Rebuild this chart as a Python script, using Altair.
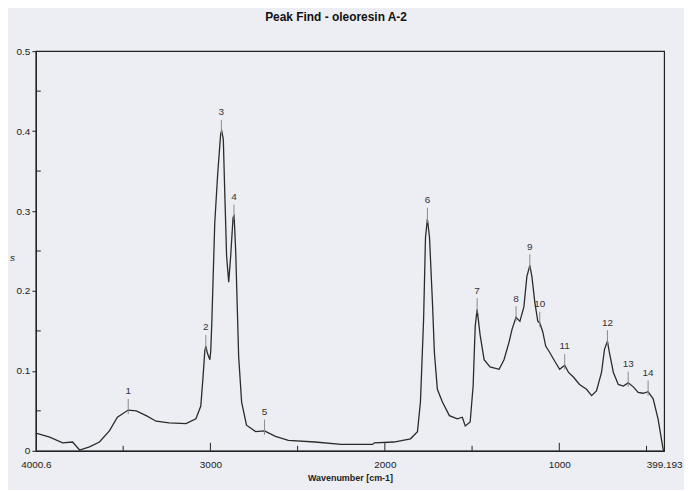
import altair as alt
import pandas as pd

# Spectrum (wavenumber in cm-1, absorbance)
wavenumber = [4000.6, 3921, 3847, 3790, 3750, 3693, 3636, 3579, 3533, 3471, 3425, 3368, 3311,
              3237, 3140, 3083, 3055, 3043, 3032, 3026, 3017, 3003, 2998, 2992, 2975, 2958,
              2941, 2935, 2926, 2918, 2907, 2895, 2884, 2870, 2864, 2855, 2838, 2821, 2793,
              2741, 2690, 2627, 2553, 2400, 2251, 2070, 2060, 1949, 1853, 1813, 1796, 1778,
              1767, 1756, 1744, 1727, 1716, 1699, 1670, 1630, 1585, 1556, 1539, 1511, 1494,
              1482, 1471, 1454, 1431, 1397, 1345, 1317, 1288, 1271, 1248, 1226, 1203, 1186,
              1169, 1157, 1140, 1123, 1112, 1095, 1078, 1055, 1026, 998, 969, 947, 918, 884,
              844, 815, 787, 758, 741, 724, 713, 690, 662, 633, 605, 576, 548, 519, 491, 462,
              434, 405, 399.193]
absorbance = [0.022, 0.017, 0.010, 0.011, 0.001, 0.005, 0.011, 0.025, 0.042, 0.051, 0.050, 0.044,
              0.037, 0.035, 0.034, 0.040, 0.056, 0.090, 0.125, 0.131, 0.122, 0.114, 0.125, 0.160,
              0.285, 0.347, 0.397, 0.400, 0.390, 0.326, 0.243, 0.211, 0.243, 0.292, 0.294, 0.250,
              0.118, 0.061, 0.032, 0.024, 0.025, 0.018, 0.013, 0.011, 0.008, 0.008, 0.010, 0.011,
              0.015, 0.024, 0.061, 0.164, 0.267, 0.290, 0.267, 0.185, 0.123, 0.077, 0.061, 0.044,
              0.040, 0.042, 0.031, 0.036, 0.081, 0.156, 0.177, 0.145, 0.114, 0.105, 0.102, 0.114,
              0.136, 0.152, 0.167, 0.162, 0.180, 0.218, 0.232, 0.218, 0.185, 0.162, 0.160, 0.149,
              0.131, 0.123, 0.112, 0.102, 0.107, 0.098, 0.092, 0.083, 0.077, 0.069, 0.075, 0.098,
              0.127, 0.137, 0.123, 0.098, 0.083, 0.081, 0.085, 0.080, 0.073, 0.072, 0.074, 0.065,
              0.040, 0.002, 0.0]

# Peak markers
peak_id = ["1", "2", "3", "4", "5", "6", "7", "8", "9", "10", "11", "12", "13", "14"]
peak_wn = [3471, 3026, 2937, 2865, 2690, 1756, 1471, 1248, 1169, 1112, 969, 724, 605, 491]
peak_abs = [0.051, 0.131, 0.400, 0.294, 0.025, 0.290, 0.177, 0.167, 0.232, 0.160, 0.107,
            0.137, 0.085, 0.074]

# Axis ticks
x_labels = [4000.6, 3000, 2000, 1000, 399.193]
x_major = [3000, 2000, 1000]
x_minor = [3500, 2500, 1500, 500]
y_major = [0, 0.1, 0.2, 0.3, 0.4, 0.5]
y_minor = [0.05, 0.15, 0.25, 0.35, 0.45]

W, H = 632, 402
FONT = "Liberation Sans"
INK = "#222222"

spec = pd.DataFrame({"wn": wavenumber, "a": absorbance})
peaks = pd.DataFrame({"id": peak_id, "wn": peak_wn, "a": peak_abs})
peaks["t0"] = peaks["a"] - 0.005
peaks["t1"] = peaks["a"] + 0.014
peaks["lab"] = peaks["a"] + 0.0235

xs = alt.Scale(domain=[4000.6, 399.193], nice=False, zero=False)
ys = alt.Scale(domain=[0, 0.5], nice=False, zero=True)

line = alt.Chart(spec).mark_line(color="#2b2b2b", strokeWidth=1.3).encode(
    x=alt.X("wn:Q", scale=xs,
            axis=alt.Axis(values=x_labels, labelExpr="'' + datum.value", ticks=False,
                          grid=False, labelPadding=9, labelFont=FONT, labelFontSize=10,
                          labelColor=INK, domainColor=INK, domainWidth=1.2,
                          labelFlush=False, labelOverlap=False,
                          title="Wavenumber [cm-1]", titleFont=FONT, titleFontSize=9,
                          titleFontWeight="bold", titleColor=INK, titlePadding=4)),
    y=alt.Y("a:Q", scale=ys,
            axis=alt.Axis(values=y_major, format="", labelExpr="'' + datum.value",
                          tickSize=4, tickColor=INK, grid=False, labelPadding=2,
                          labelFont=FONT, labelFontSize=10, labelColor=INK,
                          domainColor=INK, domainWidth=1.2, labelFlush=False,
                          title="s", titleAngle=0, titleX=-24, titleY=208,
                          titleAlign="center", titleBaseline="middle",
                          titleFont=FONT, titleFontSize=10, titleFontWeight="normal",
                          titleFontStyle="italic", titleColor=INK)),
)

xmaj = alt.Chart(pd.DataFrame({"v": x_major})).mark_rule(color=INK, strokeWidth=1).encode(
    x=alt.X("v:Q", scale=xs), y=alt.value(H), y2=alt.value(H - 8))
xmin = alt.Chart(pd.DataFrame({"v": x_minor})).mark_rule(color=INK, strokeWidth=1).encode(
    x=alt.X("v:Q", scale=xs), y=alt.value(H), y2=alt.value(H - 5))
ymin = alt.Chart(pd.DataFrame({"v": y_minor})).mark_rule(color=INK, strokeWidth=1).encode(
    y=alt.Y("v:Q", scale=ys), x=alt.value(0), x2=alt.value(5))

ptick = alt.Chart(peaks).mark_rule(color="#8a8a8a", strokeWidth=1).encode(
    x=alt.X("wn:Q", scale=xs), y=alt.Y("t0:Q", scale=ys), y2="t1:Q")
ptext = alt.Chart(peaks).mark_text(font=FONT, fontSize=10, color="#333333",
                                   baseline="middle", align="center").encode(
    x=alt.X("wn:Q", scale=xs), y=alt.Y("lab:Q", scale=ys), text="id:N")

chart = alt.layer(line, xmaj, xmin, ymin, ptick, ptext).properties(
    width=W, height=H,
    title=alt.TitleParams("Peak Find - oleoresin A-2", font=FONT, fontSize=12,
                          fontWeight="bold", color="#111111", offset=22, dx=-14,
                          anchor="middle"),
    autosize=alt.AutoSizeParams(type="none"),
    padding={"left": 28, "top": 42, "right": 20, "bottom": 38},
).configure(background="#eceef3").configure_view(stroke=INK, strokeWidth=1.2)

chart.save("out.html", embed_options={"renderer": "svg", "actions": False})
